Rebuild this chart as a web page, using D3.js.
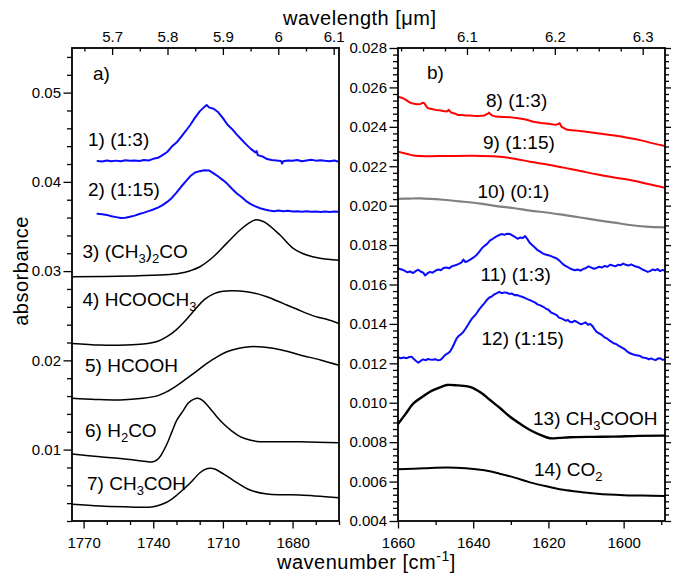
<!DOCTYPE html>
<html>
<head>
<meta charset="utf-8">
<script src="https://cdn.jsdelivr.net/npm/d3@7"></script>
<style>
  body { margin: 0; background: #fff; }
  svg text { font-family: Arial, "Liberation Sans", Helvetica, sans-serif; fill: #000; }
</style>
</head>
<body>
<svg id="chart" width="675" height="576"></svg>
<script>
// ---------- data: [wavenumber cm-1, absorbance] ----------
// panel a
const a1_13 = [[1764,0.04235],[1762,0.04228],[1760,0.0424],[1758,0.04232],[1756,0.04238],[1754,0.0423],[1752,0.04242],[1750,0.04236],[1748,0.0424],[1746,0.04233],[1744,0.04245],[1742,0.0424],[1740,0.04258],[1738,0.0427],[1736,0.043],[1734,0.04335],[1732,0.04395],[1730,0.0444],[1728,0.04505],[1726,0.0457],[1724,0.0464],[1722,0.0472],[1720,0.0479],[1718,0.0484],[1717,0.04862],[1716,0.04835],[1714,0.0482],[1712,0.0478],[1710,0.04715],[1708,0.0464],[1706,0.0459],[1704,0.0453],[1702,0.04475],[1700,0.0442],[1698,0.0437],[1696,0.0433],[1695.5,0.04345],[1695,0.043],[1693,0.04285],[1691,0.04256],[1689,0.04245],[1687,0.0424],[1685,0.04235],[1684.5,0.04205],[1684,0.04232],[1682,0.0424],[1680,0.04236],[1678,0.04245],[1676,0.04232],[1674,0.0424],[1672,0.04248],[1670,0.04238],[1668,0.04242],[1666,0.04236],[1664,0.04232],[1662,0.0424],[1660,0.04226]];
const a2_115 = [[1764,0.03642],[1762,0.03638],[1760,0.0363],[1758,0.03615],[1756,0.03605],[1754,0.03595],[1752,0.03598],[1750,0.0361],[1748,0.03622],[1746,0.0364],[1744,0.03655],[1742,0.03672],[1740,0.0369],[1738,0.03712],[1736,0.0374],[1734,0.03775],[1732,0.0382],[1730,0.0388],[1728,0.03945],[1726,0.04005],[1724,0.04065],[1722,0.04105],[1720,0.0412],[1718,0.0413],[1716,0.04128],[1714,0.04095],[1712,0.0406],[1710,0.0402],[1708,0.03975],[1706,0.0392],[1704,0.0387],[1702,0.0383],[1700,0.03785],[1698,0.0375],[1696,0.03725],[1694,0.03705],[1692,0.0369],[1690,0.0368],[1688,0.03672],[1686,0.0368],[1684,0.0367],[1682,0.03676],[1680,0.03668],[1678,0.03672],[1676,0.03665],[1674,0.0367],[1672,0.03664],[1670,0.03668],[1668,0.03662],[1666,0.03668],[1664,0.03663],[1662,0.03667],[1660,0.03665]];
const a3_acetone = [[1775,0.02937],[1750,0.02945],[1735,0.02958],[1728.5,0.02975],[1724,0.03005],[1719.9,0.03049],[1714.1,0.03161],[1708.4,0.03311],[1702.6,0.0346],[1699,0.03535],[1696.2,0.03573],[1693.5,0.03565],[1691.2,0.03536],[1685.4,0.03404],[1679.7,0.03255],[1673.9,0.0318],[1668.2,0.03143],[1660,0.03122]];
const a4_methylformate = [[1775,0.0219],[1762.9,0.02172],[1752,0.02172],[1744.4,0.02183],[1738,0.02215],[1734.1,0.02265],[1730,0.02345],[1726,0.0245],[1722,0.0257],[1718,0.0268],[1714,0.02745],[1710,0.02775],[1705.5,0.0278],[1699.8,0.02769],[1695,0.02745],[1691.1,0.02713],[1686,0.0266],[1682.5,0.0262],[1678,0.02572],[1673.9,0.02527],[1669,0.02482],[1665.3,0.0246],[1660,0.02413]];
const a5_formicacid = [[1775,0.01575],[1765,0.01562],[1754.3,0.01556],[1744.4,0.01575],[1738,0.01605],[1734.1,0.01649],[1730,0.01715],[1725.5,0.01799],[1721,0.01885],[1716.9,0.01967],[1712.5,0.0204],[1708.3,0.02097],[1703,0.02135],[1698.3,0.02153],[1693,0.0215],[1688.4,0.02135],[1682,0.021],[1676.8,0.0206],[1668,0.02005],[1660,0.01945]];
const a6_formaldehyde = [[1775,0.00951],[1762.9,0.0092],[1750,0.00888],[1743,0.00866],[1741,0.00862],[1739.5,0.00868],[1737.5,0.00905],[1735.5,0.0099],[1733.5,0.011],[1731.8,0.0121],[1729.8,0.01332],[1727,0.0144],[1725,0.01519],[1722.5,0.01565],[1720.7,0.01575],[1718.5,0.01545],[1715.6,0.01463],[1712.8,0.01375],[1710,0.01295],[1706,0.01205],[1702.6,0.01145],[1698,0.01105],[1694,0.01089],[1685,0.01088],[1676.8,0.01087],[1660,0.01077]];
const a7_acetaldehyde = [[1775,0.00387],[1762.9,0.00368],[1750,0.00357],[1744.4,0.00353],[1740,0.0036],[1737.1,0.00379],[1733.5,0.0042],[1729.8,0.00491],[1724.2,0.00622],[1719.9,0.00741],[1717.5,0.0078],[1715.6,0.0079],[1713.5,0.00782],[1711.3,0.00752],[1705.7,0.00659],[1698.3,0.00547],[1691,0.00503],[1684,0.00494],[1676.8,0.00491],[1660,0.00461]];
// panel b
const b8_13 = [[1660,0.02553],[1659,0.02548],[1658,0.02538],[1657,0.02525],[1656,0.02518],[1655,0.02515],[1654,0.02516],[1653.5,0.02522],[1653,0.0252],[1652.5,0.02505],[1652,0.02494],[1651,0.0249],[1650,0.02486],[1649,0.02484],[1648,0.0248],[1647,0.02478],[1646.5,0.02486],[1646,0.02474],[1645,0.02468],[1644,0.0246],[1643,0.0246],[1642,0.02458],[1641,0.02458],[1640,0.02456],[1639,0.02455],[1638,0.02456],[1637,0.02458],[1636,0.02468],[1635.8,0.02472],[1635,0.02458],[1634,0.02452],[1633,0.02451],[1632,0.0245],[1630,0.02448],[1628,0.02444],[1626,0.02437],[1624,0.02426],[1622,0.0242],[1620,0.02416],[1618,0.0241],[1617,0.02418],[1616.5,0.024],[1615,0.02385],[1613,0.02382],[1611,0.02377],[1609,0.02372],[1607,0.02367],[1605,0.02362],[1603,0.02357],[1601,0.02352],[1599,0.02345],[1597,0.02338],[1595,0.0233],[1593,0.0232],[1591,0.02311],[1589,0.02303]];
const b9_115 = [[1660,0.02274],[1657.5,0.02262],[1655.9,0.02254],[1652,0.02251],[1647,0.02252],[1640,0.02253],[1633.8,0.02249],[1629,0.02238],[1624.9,0.02223],[1620,0.02208],[1616,0.02193],[1611.5,0.02176],[1607.2,0.02159],[1602.5,0.02143],[1598.3,0.0213],[1593.5,0.0211],[1589,0.02091]];
const b10_01 = [[1660,0.02034],[1657,0.02036],[1654.1,0.02037],[1648,0.0203],[1642.6,0.0202],[1638,0.0201],[1633.8,0.01998],[1629,0.01987],[1624.9,0.01975],[1620,0.01964],[1616,0.01953],[1611.5,0.0194],[1607.2,0.01927],[1602.5,0.01914],[1598.3,0.01902],[1594,0.01894],[1589,0.0189]];
const b11_13 = [[1660,0.01682],[1659,0.01676],[1658.3,0.0167],[1657.5,0.01662],[1656.8,0.01666],[1656,0.01658],[1655.3,0.01668],[1654.6,0.01675],[1654,0.01666],[1653.3,0.0166],[1652.8,0.01646],[1652.2,0.01656],[1651.5,0.01664],[1650.8,0.0166],[1650,0.0167],[1649.3,0.01676],[1648.6,0.01672],[1648,0.01682],[1647.2,0.01686],[1646.4,0.01682],[1645.7,0.01692],[1645,0.01696],[1644.4,0.017],[1643.7,0.01706],[1643.1,0.01712],[1642.6,0.01726],[1642.1,0.01714],[1641.5,0.01718],[1640.8,0.01726],[1640,0.01736],[1639.1,0.0175],[1638.4,0.01766],[1637.7,0.01784],[1637,0.01796],[1636.3,0.01806],[1635.5,0.01824],[1634.8,0.01832],[1634,0.01842],[1633.2,0.0185],[1632.5,0.01856],[1631.7,0.01852],[1631,0.01858],[1630.2,0.01856],[1629.5,0.01848],[1628.8,0.0184],[1628.2,0.01832],[1627.5,0.01838],[1626.8,0.01836],[1626.2,0.01846],[1625.6,0.0183],[1624.9,0.0181],[1624.2,0.01798],[1623.6,0.01788],[1623,0.01776],[1622.3,0.01768],[1621.5,0.01758],[1620.8,0.01752],[1620,0.01748],[1619.3,0.01744],[1618.6,0.01738],[1617.8,0.01732],[1617,0.0172],[1616.3,0.01706],[1615.6,0.01696],[1615,0.0169],[1614.3,0.01682],[1613.6,0.01676],[1612.9,0.01672],[1612.2,0.01676],[1611.5,0.0167],[1610.8,0.01678],[1610,0.01684],[1609.3,0.01692],[1608.6,0.01686],[1607.9,0.0168],[1607.2,0.01684],[1606.5,0.0169],[1605.8,0.01686],[1605,0.01694],[1604.3,0.0169],[1603.6,0.017],[1602.9,0.01696],[1602.2,0.01692],[1601.5,0.017],[1600.8,0.01698],[1600.1,0.01706],[1599.4,0.017],[1598.7,0.01696],[1598,0.01702],[1597.2,0.01694],[1596.5,0.0169],[1595.8,0.01686],[1595,0.01676],[1594.3,0.0167],[1593.6,0.01664],[1593,0.01668],[1592.3,0.01676],[1591.6,0.01672],[1591,0.01678],[1590.3,0.01668],[1589.6,0.01674],[1589,0.0167]];
const b12_115 = [[1660,0.01231],[1659.3,0.01226],[1658.5,0.0123],[1657.7,0.01226],[1657,0.01232],[1656.4,0.01234],[1655.8,0.01222],[1655.2,0.01212],[1654.6,0.01203],[1654,0.01212],[1653.3,0.0122],[1652.6,0.01216],[1652,0.01222],[1651.5,0.0122],[1650.8,0.01218],[1650.1,0.01221],[1649.5,0.01216],[1648.8,0.01217],[1648.2,0.01226],[1647.5,0.01242],[1646.8,0.0125],[1646.2,0.01259],[1645.6,0.01278],[1645,0.01302],[1644.4,0.01327],[1643.8,0.0134],[1643.2,0.01348],[1642.6,0.0136],[1642.1,0.01374],[1641.7,0.01386],[1641.3,0.01398],[1640.9,0.01411],[1640.3,0.01428],[1639.7,0.0144],[1639.1,0.01454],[1638.4,0.01474],[1637.7,0.0149],[1637,0.01506],[1636.4,0.01521],[1635.7,0.01534],[1635,0.0154],[1634.4,0.0155],[1633.8,0.01555],[1633.1,0.01562],[1632.4,0.01556],[1631.7,0.0156],[1631.1,0.01558],[1630.4,0.01552],[1629.7,0.01554],[1629,0.01546],[1628.4,0.01547],[1627.7,0.01542],[1627,0.01538],[1626.3,0.01532],[1625.6,0.01526],[1624.9,0.01521],[1624.2,0.01514],[1623.5,0.01508],[1622.8,0.01498],[1622.1,0.01494],[1621.4,0.01487],[1620.7,0.01478],[1620,0.01472],[1619.3,0.01458],[1618.6,0.01452],[1617.8,0.01445],[1617.2,0.01432],[1616.6,0.01428],[1616,0.01423],[1615.4,0.01416],[1614.8,0.0142],[1614.3,0.01411],[1613.7,0.01408],[1613.1,0.01416],[1612.5,0.01411],[1611.9,0.01404],[1611.3,0.01398],[1610.7,0.01403],[1610.1,0.01408],[1609.5,0.01396],[1608.9,0.014],[1608.3,0.0139],[1607.7,0.01372],[1607.2,0.0136],[1606.5,0.01352],[1605.8,0.01344],[1605.1,0.01332],[1604.5,0.01327],[1603.9,0.01318],[1603.3,0.0131],[1602.7,0.01302],[1602,0.01298],[1601.4,0.0129],[1600.8,0.01284],[1600.1,0.01276],[1599.5,0.01268],[1598.9,0.01258],[1598.3,0.01251],[1597.6,0.01246],[1596.9,0.01242],[1596.2,0.0124],[1595.6,0.01237],[1595,0.0123],[1594.4,0.01228],[1593.9,0.01226],[1593.3,0.0122],[1592.7,0.01225],[1592.1,0.0122],[1591.5,0.01216],[1590.9,0.01224],[1590.3,0.01226],[1589.7,0.01218],[1589,0.0122]];
const b13_aceticacid = [[1660,0.00892],[1657.8,0.00948],[1655.9,0.00997],[1653.5,0.0103],[1651.5,0.01056],[1649,0.01077],[1647,0.0109],[1644,0.01088],[1640.9,0.01081],[1638,0.01052],[1635.5,0.01014],[1632.8,0.00972],[1630.2,0.00929],[1627.5,0.00893],[1624.9,0.00862],[1622,0.00836],[1619.6,0.0082],[1617,0.00822],[1614.3,0.00825],[1608,0.00827],[1602.7,0.00828],[1596,0.00832],[1589,0.00833]];
const b14_co2 = [[1660,0.00662],[1653,0.00668],[1647,0.00672],[1642,0.00668],[1637,0.00657],[1633,0.0064],[1629,0.0062],[1624.9,0.00596],[1620,0.00574],[1616,0.00558],[1611,0.00546],[1607,0.00538],[1600,0.00531],[1595,0.00529],[1589,0.00527]];

// axis tick values
const wnTicksA = [1770, 1740, 1710, 1680];
const wnTicksB = [1660, 1640, 1620, 1600];
const lamTicksA = [5.7, 5.8, 5.9, 6.0, 6.1];
const lamTicksB = [6.1, 6.2, 6.3];
const absTicksA = [0.01, 0.02, 0.03, 0.04, 0.05];
const absTicksB = [0.004, 0.006, 0.008, 0.010, 0.012, 0.014, 0.016, 0.018, 0.020, 0.022, 0.024, 0.026, 0.028];

// curve labels (text; "_x" = subscript, "^{..}" = superscript)
const labelsA = ["1) (1:3)", "2) (1:15)", "3) (CH_3)_2CO", "4) HCOOCH_3", "5) HCOOH", "6) H_2CO", "7) CH_3COH"];
const labelsB = ["8) (1:3)", "9) (1:15)", "10) (0:1)", "11) (1:3)", "12) (1:15)", "13) CH_3COOH", "14) CO_2"];

// ---------- drawing ----------
const svg = d3.select("#chart");
const TOP = 48, BOT = 521;
const BLUE = "#0a0aff", RED = "#ff0000", GREY = "#808080", BLACK = "#000";

const panels = [
  {
    x0: 72, x1: 339, wn: [1775, 1660], lam: [5.6276, 6.1096], abs: [0.002, 0.055],
    wnMajor: wnTicksA, wnMinor: d3.range(1660, 1776, 10).filter(v => !wnTicksA.includes(v)),
    lamMajor: lamTicksA, lamMinor: [5.65, 5.75, 5.85, 5.95, 6.05],
    absMajor: absTicksA, absMinor: d3.range(1, 28).map(i => +(i * 0.002).toFixed(3)).filter(v => !absTicksA.some(t => Math.abs(t - v) < 1e-9)),
    absFmt: d3.format(".2f"), rightTicks: false,
    series: [
      { d: a1_13, c: BLUE, w: 2, smooth: false },
      { d: a2_115, c: BLUE, w: 2, smooth: false },
      { d: a3_acetone, c: BLACK, w: 1.5, smooth: true },
      { d: a4_methylformate, c: BLACK, w: 1.5, smooth: true },
      { d: a5_formicacid, c: BLACK, w: 1.5, smooth: true },
      { d: a6_formaldehyde, c: BLACK, w: 1.5, smooth: true },
      { d: a7_acetaldehyde, c: BLACK, w: 1.5, smooth: true }
    ],
    tag: "a)", tagPos: [93, 80],
    labels: labelsA,
    labelPos: [[88, 146], [88, 196], [82.5, 258], [82.5, 306], [85, 371.5], [85, 437], [87, 490]]
  },
  {
    x0: 398, x1: 665, wn: [1660, 1589], lam: [6.0215, 6.3254], abs: [0.004, 0.028],
    wnMajor: wnTicksB, wnMinor: [1650, 1630, 1610, 1590],
    lamMajor: lamTicksB, lamMinor: d3.range(0, 13).map(i => +(6.025 + i * 0.025).toFixed(3)).filter(v => !lamTicksB.some(t => Math.abs(t - v) < 1e-9) && v < 6.325),
    absMajor: absTicksB,
    absMinor: d3.range(0, 72).map(i => 0.004 + i * 0.002 / 6).filter((v, i) => i % 6 !== 0 && v < 0.028),
    absFmt: d3.format(".3f"), rightTicks: true,
    series: [
      { d: b8_13, c: RED, w: 2, smooth: false },
      { d: b9_115, c: RED, w: 2, smooth: true },
      { d: b10_01, c: GREY, w: 2.2, smooth: true },
      { d: b11_13, c: BLUE, w: 2, smooth: false },
      { d: b12_115, c: BLUE, w: 2, smooth: false },
      { d: b13_aceticacid, c: BLACK, w: 2.4, smooth: true },
      { d: b14_co2, c: BLACK, w: 2, smooth: true }
    ],
    tag: "b)", tagPos: [427, 79],
    labels: labelsB,
    labelPos: [[486, 107], [483, 149], [477.5, 198], [480.5, 280.5], [481.5, 345], [533, 425], [534, 476]]
  }
];

function richText(sel, str, size) {
  const re = /_(\S)|\^\{([^}]*)\}|([^_^]+)/g;
  let m, shift = 0;
  const small = Math.round(size * 0.68);
  while ((m = re.exec(str)) !== null) {
    if (m[1] !== undefined) {
      sel.append("tspan").attr("dy", 5 - shift).style("font-size", small + "px").text(m[1]);
      shift = 5;
    } else if (m[2] !== undefined) {
      sel.append("tspan").attr("dy", -8 - shift).style("font-size", small + "px").text(m[2]);
      shift = -8;
    } else {
      sel.append("tspan").attr("dy", -shift).style("font-size", size + "px").text(m[3]);
      shift = 0;
    }
  }
}

function styleAxis(g, fontSize) {
  g.select(".domain").remove();
  g.selectAll(".tick line").attr("stroke", "#000").attr("stroke-width", 1.3);
  g.selectAll(".tick text")
    .attr("font-family", null)
    .style("font-size", fontSize + "px")
    .attr("fill", "#000");
  g.attr("font-family", null).attr("font-size", null);
}

panels.forEach((p, idx) => {
  const x = d3.scaleLinear().domain(p.wn).range([p.x0, p.x1]);
  const xl = d3.scaleLinear().domain(p.lam).range([p.x0, p.x1]);
  const y = d3.scaleLinear().domain(p.abs).range([BOT, TOP]);

  const clipId = "clip" + idx;
  svg.append("clipPath").attr("id", clipId)
    .append("rect").attr("x", p.x0).attr("y", TOP).attr("width", p.x1 - p.x0).attr("height", BOT - TOP);

  // spectra
  const plot = svg.append("g").attr("clip-path", `url(#${clipId})`);
  p.series.forEach(s => {
    const line = d3.line()
      .x(d => x(d[0])).y(d => y(d[1]))
      .curve(s.smooth ? d3.curveCatmullRom.alpha(0.5) : d3.curveLinear);
    plot.append("path").datum(s.d)
      .attr("d", line)
      .attr("fill", "none")
      .attr("stroke", s.c)
      .attr("stroke-width", s.w)
      .attr("stroke-linejoin", "round")
      .attr("stroke-linecap", "round");
  });

  // bottom axis: wavenumber
  svg.append("g").attr("transform", `translate(0,${BOT})`)
    .call(d3.axisBottom(x).tickValues(p.wnMajor).tickSize(7.5).tickPadding(8.5).tickFormat(d3.format("d")))
    .call(g => styleAxis(g, 15));
  svg.append("g").attr("transform", `translate(0,${BOT})`)
    .call(d3.axisBottom(x).tickValues(p.wnMinor).tickSize(4).tickFormat(""))
    .call(g => styleAxis(g, 15));

  // top axis: wavelength, ticks pointing inward
  svg.append("g").attr("transform", `translate(0,${TOP})`)
    .call(d3.axisTop(xl).tickValues(p.lamMajor).tickSize(-7).tickPadding(6.5).tickFormat(d => String(+d.toFixed(1))))
    .call(g => styleAxis(g, 15));
  svg.append("g").attr("transform", `translate(0,${TOP})`)
    .call(d3.axisTop(xl).tickValues(p.lamMinor).tickSize(-3.5).tickFormat(""))
    .call(g => styleAxis(g, 15));

  // left axis: absorbance
  svg.append("g").attr("transform", `translate(${p.x0},0)`)
    .call(d3.axisLeft(y).tickValues(p.absMajor).tickSize(8.5).tickPadding(2.5).tickFormat(p.absFmt))
    .call(g => styleAxis(g, 15));
  svg.append("g").attr("transform", `translate(${p.x0},0)`)
    .call(d3.axisLeft(y).tickValues(p.absMinor).tickSize(5).tickFormat(""))
    .call(g => styleAxis(g, 15));

  if (p.rightTicks) {
    svg.append("g").attr("transform", `translate(${p.x1},0)`)
      .call(d3.axisRight(y).tickValues(p.absMajor).tickSize(6).tickFormat(""))
      .call(g => styleAxis(g, 15));
    svg.append("g").attr("transform", `translate(${p.x1},0)`)
      .call(d3.axisRight(y).tickValues(p.absMinor).tickSize(4).tickFormat(""))
      .call(g => styleAxis(g, 15));
  }

  // frame
  svg.append("rect")
    .attr("x", p.x0).attr("y", TOP)
    .attr("width", p.x1 - p.x0).attr("height", BOT - TOP)
    .attr("fill", "none").attr("stroke", "#000").attr("stroke-width", 1.8);

  // panel tag
  svg.append("text").attr("x", p.tagPos[0]).attr("y", p.tagPos[1])
    .style("font-size", "19px").text(p.tag);

  // curve labels
  p.labels.forEach((t, i) => {
    const txt = svg.append("text").attr("x", p.labelPos[i][0]).attr("y", p.labelPos[i][1]);
    richText(txt, t, 19);
  });
});

// axis titles
svg.append("text").attr("x", 283).attr("y", 25)
  .style("font-size", "20px").attr("letter-spacing", "0.5")
  .text("wavelength [\u03bcm]");

const xt = svg.append("text").attr("x", 277).attr("y", 569)
  .style("font-size", "20px").attr("letter-spacing", "0.5");
richText(xt, "wavenumber [cm^{-1}]", 20);

svg.append("text")
  .attr("transform", "translate(28,271) rotate(-90)")
  .attr("text-anchor", "middle")
  .style("font-size", "20px").attr("letter-spacing", "0.5")
  .text("absorbance");
</script>
</body>
</html>
